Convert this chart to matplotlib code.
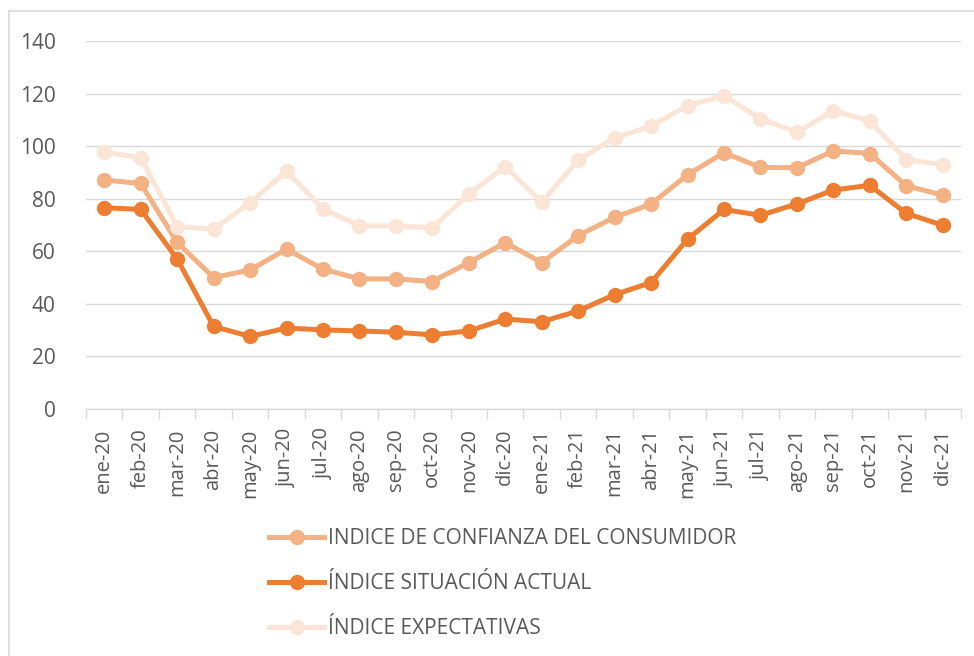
import matplotlib
matplotlib.use("Agg")
import matplotlib.pyplot as plt
from matplotlib.lines import Line2D
import numpy as np

plt.rcParams['font.family'] = ['Open Sans', 'DejaVu Sans']

months = ["ene-20", "feb-20", "mar-20", "abr-20", "may-20", "jun-20", "jul-20", "ago-20",
          "sep-20", "oct-20", "nov-20", "dic-20", "ene-21", "feb-21", "mar-21", "abr-21",
          "may-21", "jun-21", "jul-21", "ago-21", "sep-21", "oct-21", "nov-21", "dic-21"]

icc = [87.1, 85.8, 63.4, 50.0, 52.9, 60.8, 53.2, 49.5, 49.5, 48.5, 55.7, 63.3,
       55.7, 66.0, 72.9, 78.0, 89.1, 97.5, 91.9, 91.8, 98.2, 97.2, 84.9, 81.4]
actual = [76.6, 75.9, 57.1, 31.4, 27.6, 30.8, 30.1, 29.7, 29.2, 28.2, 29.7, 34.2,
          33.2, 37.3, 43.5, 48.1, 64.6, 75.9, 73.7, 78.0, 83.3, 85.1, 74.4, 69.9]
expect = [97.8, 95.6, 69.4, 68.4, 78.5, 90.4, 76.1, 69.7, 69.7, 68.9, 81.8, 92.2,
          78.7, 94.7, 103.2, 107.6, 115.4, 119.2, 110.4, 105.3, 113.5, 109.6, 94.9, 92.9]

labels = ["INDICE DE CONFIANZA DEL CONSUMIDOR", "ÍNDICE SITUACIÓN ACTUAL", "ÍNDICE EXPECTATIVAS"]
colors = ["#F4B183", "#ED7D31", "#FBE5D6"]
yticks = [0, 20, 40, 60, 80, 100, 120, 140]

W, H = 974, 656
fig = plt.figure(figsize=(W / 100, H / 100), dpi=100)
ax = fig.add_axes([86 / W, 1 - 409 / H, 875 / W, 368 / H])

x = np.arange(len(months))
series = [icc, actual, expect]
handles = []
for s, c, lab in zip(series, colors, labels):
    h, = ax.plot(x, s, color=c, lw=3.6, marker='o', ms=10, label=lab, zorder=3)
    handles.append(h)

ax.set_ylim(0, 140)
ax.set_xlim(-0.5, len(months) - 0.5)
ax.set_yticks(yticks)
ax.set_xticks(x)
ax.set_xticklabels(months, rotation=90)
ax.set_xticks(np.arange(-0.5, len(months), 1.0), minor=True)
ax.tick_params(axis='x', which='major', length=0, pad=14, labelsize=14.5, labelcolor='#595959')
ax.tick_params(axis='x', which='minor', length=7, width=1, color='#D9D9D9', direction='out')
ax.tick_params(axis='y', length=0, pad=22, labelsize=15, labelcolor='#595959')
ax.grid(axis='y', color='#D9D9D9', lw=1)
ax.set_axisbelow(True)
for sp in ['top', 'right', 'left']:
    ax.spines[sp].set_visible(False)
ax.spines['bottom'].set_color('#D9D9D9')
ax.spines['bottom'].set_linewidth(1)

leg = fig.legend(handles=handles, loc='upper left', bbox_to_anchor=(269 / W, 1 - 528 / H),
                 frameon=False, fontsize=15, labelcolor='#595959', handlelength=2.65,
                 handletextpad=0.2, labelspacing=1.15, borderaxespad=0, borderpad=0)

# outer chart border
fig.add_artist(Line2D([9 / W, 1.0], [1 - 11 / H, 1 - 11 / H], transform=fig.transFigure,
                      color='#D9D9D9', lw=1.2))
fig.add_artist(Line2D([9 / W, 9 / W], [0, 1 - 11 / H], transform=fig.transFigure,
                      color='#D9D9D9', lw=1.2))

fig.savefig("out.png", dpi=100)
